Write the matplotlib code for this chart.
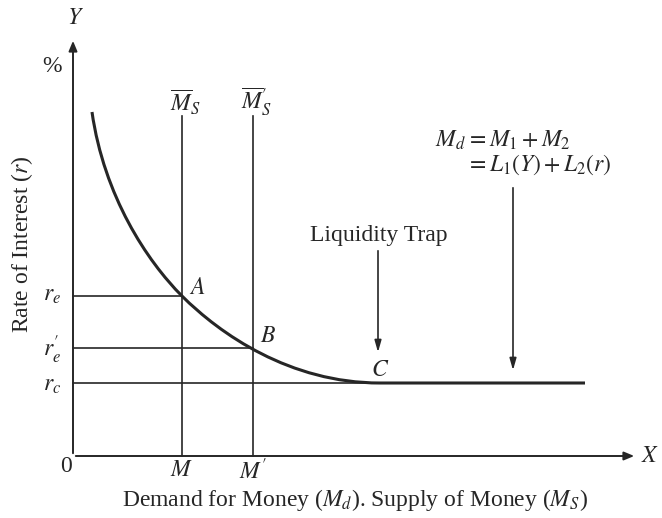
import matplotlib
matplotlib.use('Agg')
import matplotlib.pyplot as plt
from matplotlib.path import Path
from matplotlib.patches import PathPatch

plt.rcParams['font.family'] = ['Liberation Serif', 'DejaVu Serif']
plt.rcParams['mathtext.fontset'] = 'stix'

# positions (origin at the axes crossing)
money_m, money_m2 = 109, 180            # M, M'
rate_e, rate_e2, rate_c = 160, 108, 73  # r_e, r'_e, r_c
supply_top = 340

# liquidity preference curve (Md): two cubic Bezier pieces, top -> A -> C
curve_pts = [(19, 344), (31, 260), (74, 195), (109, 160),
             (147, 122), (217, 73), (307, 73)]
trap_end = 512

x_end, y_end = 564, 418
ink = '#262626'

fig = plt.figure(figsize=(6.62, 5.18), dpi=100)
ax = fig.add_axes([0, 0, 1, 1])
ax.set_xlim(-73, 589)
ax.set_ylim(-62, 456)
ax.axis('off')

# axes with arrows
ax.annotate('', xy=(0, y_end), xytext=(0, 0),
            arrowprops=dict(arrowstyle='-|>,head_width=0.25,head_length=0.6', color=ink, lw=1.4))
ax.annotate('', xy=(x_end, 0), xytext=(0, 0),
            arrowprops=dict(arrowstyle='-|>,head_width=0.25,head_length=0.6', color=ink, lw=1.4))

# money supply lines
for xm in [money_m, money_m2]:
    ax.plot([xm, xm], [0, supply_top], color=ink, lw=1.2)

# interest rate guide lines
ax.plot([0, money_m], [rate_e, rate_e], color=ink, lw=1.2)
ax.plot([0, money_m2], [rate_e2, rate_e2], color=ink, lw=1.2)
ax.plot([0, curve_pts[-1][0]], [rate_c, rate_c], color=ink, lw=1.2)

# demand curve + liquidity trap
codes = [Path.MOVETO] + [Path.CURVE4] * 6 + [Path.LINETO]
path = Path(curve_pts + [(trap_end, rate_c)], codes)
ax.add_patch(PathPatch(path, fc='none', ec=ink, lw=2.2, capstyle='butt'))

# arrows
ax.annotate('', xy=(305, 101), xytext=(305, 208),
            arrowprops=dict(arrowstyle='-|>,head_width=0.2,head_length=0.7', color=ink, lw=1.2))
ax.annotate('', xy=(440, 83), xytext=(440, 271),
            arrowprops=dict(arrowstyle='-|>,head_width=0.2,head_length=0.7', color=ink, lw=1.2))

fs = 17
ax.text(306, 221, 'Liquidity Trap', fontsize=fs, ha='center', va='center', color=ink)
ax.text(393, 316, '$M_d$', fontsize=fs, ha='right', va='center', color=ink)
ax.text(393, 316, '$= M_1 + M_2$', fontsize=fs, ha='left', va='center', color=ink)
ax.text(393, 291, '$= L_1(Y) + L_2(r)$', fontsize=fs, ha='left', va='center', color=ink)

ax.text(112, 354, r'$\overline{M}_S$', fontsize=fs, ha='center', va='center', color=ink)
ax.text(183, 354, r'$\overline{M}^{\prime}_S$', fontsize=fs, ha='center', va='center', color=ink)

ax.text(124, 168, '$A$', fontsize=fs, ha='center', va='center', color=ink)
ax.text(195, 119, '$B$', fontsize=fs, ha='center', va='center', color=ink)
ax.text(307, 86, '$C$', fontsize=fs, ha='center', va='center', color=ink)

ax.text(-21, rate_e, '$r_e$', fontsize=fs, ha='center', va='center', color=ink)
ax.text(-21, rate_e2 - 2, r'$r^{\prime}_e$', fontsize=fs, ha='center', va='center', color=ink)
ax.text(-21, rate_c - 2, '$r_c$', fontsize=fs, ha='center', va='center', color=ink)

ax.text(money_m, -15, '$M$', fontsize=fs, ha='center', va='center', color=ink)
ax.text(money_m2, -15, r'$M^{\prime}$', fontsize=fs, ha='center', va='center', color=ink)
ax.text(-7, -11, '0', fontsize=fs, ha='center', va='center', color=ink)

ax.text(2, 438, '$Y$', fontsize=fs, ha='center', va='center', color=ink)
ax.text(577, 0, '$X$', fontsize=fs, ha='center', va='center', color=ink)
ax.text(-21, 390, '%', fontsize=fs, ha='center', va='center', color=ink)

ax.text(-51, 212, 'Rate of Interest ($r$)', fontsize=fs, rotation=90,
        ha='center', va='center', color=ink)
ax.text(282, -44, 'Demand for Money ($M_d$). Supply of Money ($M_S$)', fontsize=fs,
        ha='center', va='center', color=ink)

fig.savefig('out.png', dpi=100, facecolor='white')
